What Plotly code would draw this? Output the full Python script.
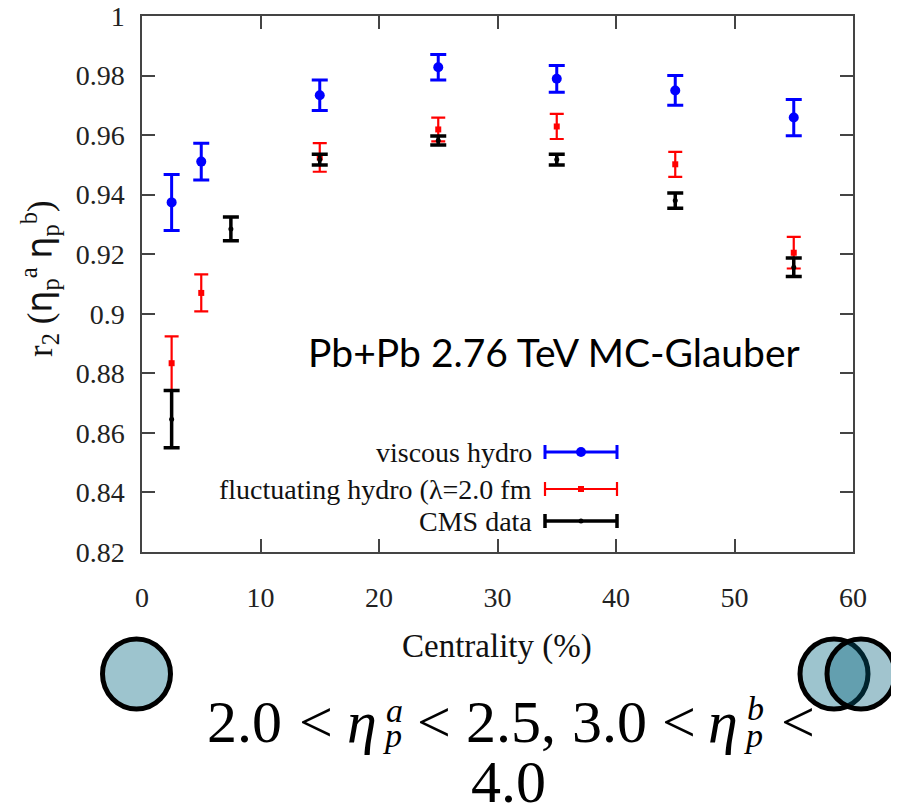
import plotly.graph_objects as go

# ---------------- data ----------------
x_hydro = [2.5, 5, 15, 25, 35, 45, 55]
visc = [0.9374, 0.9511, 0.9734, 0.9828, 0.9789, 0.9750, 0.9659]
visc_err = [0.0094, 0.0062, 0.0051, 0.0043, 0.0045, 0.0050, 0.0061]
fluct = [0.8834, 0.9070, 0.9525, 0.9619, 0.9629, 0.9502, 0.9205]
fluct_err = [0.0090, 0.0062, 0.0048, 0.0040, 0.0042, 0.0042, 0.0053]
x_cms = [2.5, 7.5, 15, 25, 35, 45, 55]
cms = [0.8646, 0.9285, 0.9518, 0.9582, 0.9518, 0.9380, 0.9156]
cms_err = [0.0096, 0.0040, 0.0018, 0.0015, 0.0018, 0.0026, 0.0031]

x_ticks = [0, 10, 20, 30, 40, 50, 60]
y_ticks = [0.82, 0.84, 0.86, 0.88, 0.9, 0.92, 0.94, 0.96, 0.98, 1]
y_ticklabels = ["0.82", "0.84", "0.86", "0.88", "0.9", "0.92", "0.94", "0.96", "0.98", "1"]

legend_names = ["viscous hydro", "fluctuating hydro (λ=2.0 fm", "CMS data"]
legend_colors = ["#0000FF", "#FF0000", "#000000"]

# page body has an 8px margin; the figure is sized so that it fills the window
OFF = 8
W, H = 899 - OFF, 805 - OFF
PL, PR, PT, PB = 142, 853, 16, 552  # plot area in window pixels
ML, MR, MT, MB = PL - OFF, 899 - PR, PT - OFF, 805 - PB
PW, PH = PR - PL, PB - PT


def px(x):
    return (x - PL) / PW


def py(y):
    return (PB - y) / PH


SERIF = "Liberation Serif, Times New Roman, serif"

fig = go.Figure()

fig.add_trace(go.Scatter(
    x=x_hydro, y=visc, mode="markers", name=legend_names[0],
    marker=dict(symbol="circle", size=10, color=legend_colors[0]),
    error_y=dict(type="data", array=visc_err, color=legend_colors[0], thickness=3, width=8),
    showlegend=False))
fig.add_trace(go.Scatter(
    x=x_hydro, y=fluct, mode="markers", name=legend_names[1],
    marker=dict(symbol="square", size=6, color=legend_colors[1]),
    error_y=dict(type="data", array=fluct_err, color=legend_colors[1], thickness=2.2, width=7),
    showlegend=False))
fig.add_trace(go.Scatter(
    x=x_cms, y=cms, mode="markers", name=legend_names[2],
    marker=dict(symbol="circle", size=5, color=legend_colors[2]),
    error_y=dict(type="data", array=cms_err, color=legend_colors[2], thickness=3.5, width=8),
    showlegend=False))

shapes = []
annotations = []

# custom legend (text on the left, sample on the right)
leg_y = [452, 489, 521]
leg_marker = [dict(kind="circle", r=5), dict(kind="rect", r=3), dict(kind="circle", r=2.5)]
leg_thick = [3, 2.2, 3.5]
for name, col, yy, mk, th in zip(legend_names, legend_colors, leg_y, leg_marker, leg_thick):
    annotations.append(dict(
        x=px(534), y=py(yy), xref="paper", yref="paper", xanchor="right", yanchor="middle",
        text=name, showarrow=False, font=dict(family=SERIF, size=28, color="#111")))
    shapes.append(dict(type="line", xref="paper", yref="paper", x0=px(545), x1=px(617),
                       y0=py(yy), y1=py(yy), line=dict(color=col, width=th)))
    for xe in (545, 617):
        shapes.append(dict(type="line", xref="paper", yref="paper", x0=px(xe), x1=px(xe),
                           y0=py(yy - 7), y1=py(yy + 7), line=dict(color=col, width=th)))
    r = mk["r"]
    shapes.append(dict(type=mk["kind"], xref="paper", yref="paper",
                       x0=px(581 - r), x1=px(581 + r), y0=py(yy - r), y1=py(yy + r),
                       fillcolor=col, line=dict(color=col, width=0)))

# text inside plot
annotations.append(dict(
    x=px(554), y=py(352), xref="paper", yref="paper", xanchor="center", yanchor="middle",
    text="Pb+Pb 2.76 TeV MC-Glauber", showarrow=False,
    font=dict(family="Lato, Noto Sans, sans-serif", size=39, color="#000")))

# axis titles
annotations.append(dict(
    x=px(497), y=py(646), xref="paper", yref="paper", xanchor="center", yanchor="middle",
    text="Centrality (%)", showarrow=False, font=dict(family=SERIF, size=33, color="#111")))
eta = '<span style="font-family:DejaVu Sans">η</span>'
annotations.append(dict(
    x=px(40), y=py(279), xref="paper", yref="paper", xanchor="center", yanchor="middle",
    textangle=-90,
    text="r<sub>2</sub> (" + eta + "<sub>p</sub><sup>a</sup> " + eta + "<sub>p</sub><sup>b</sup>)",
    showarrow=False, font=dict(family=SERIF, size=35, color="#111")))

# circles
circ_r = 34
for cx, fill in [(136.5, "#9DC4CE"), (834, "#9DC4CE"), (861, "rgba(0,94,121,0.37)")]:
    shapes.append(dict(type="circle", xref="paper", yref="paper",
                       x0=px(cx - circ_r), x1=px(cx + circ_r),
                       y0=py(674 + circ_r + 1), y1=py(674 - circ_r - 1),
                       fillcolor=fill, line=dict(color="#000", width=5)))

# bottom formula, placed piecewise
MATH = "Liberation Serif, DejaVu Serif, serif"
big = 60
small = 34
line1_y = 722
pieces = [
    ("2.0", 244, big, False, 0),
    ("<", 316, big, False, 0),
    ("η", 362, big, True, 0),
    ("p", 392, small, True, 13),
    ("a", 394, small, True, -12),
    ("<", 434, big, False, 0),
    ("2.5,", 511, big, False, 0),
    ("3.0", 609, big, False, 0),
    ("<", 679, big, False, 0),
    ("η", 723, big, True, 0),
    ("p", 753, small, True, 13),
    ("b", 755, small, True, -14),
    ("<", 798, big, False, 0),
]
for txt, cx, fs, it, dy in pieces:
    t = "<i>" + txt + "</i>" if it else txt
    annotations.append(dict(
        x=px(cx), y=py(line1_y + dy), xref="paper", yref="paper", xanchor="center",
        yanchor="middle", text=t, showarrow=False, font=dict(family=MATH, size=fs, color="#000")))
annotations.append(dict(
    x=px(508), y=py(782), xref="paper", yref="paper", xanchor="center", yanchor="middle",
    text="4.0", showarrow=False, font=dict(family=MATH, size=big, color="#000")))

axis_common = dict(showline=True, linecolor="#444", linewidth=1.5, mirror="ticks",
                   ticks="inside", ticklen=13, tickwidth=1.5, tickcolor="#444",
                   showgrid=False, zeroline=False, automargin=False,
                   ticklabeloverflow="allow",
                   tickfont=dict(family=SERIF, size=28, color="#222"))

fig.update_layout(
    width=W, height=H,
    margin=dict(l=ML, r=MR, t=MT, b=MB, pad=0, autoexpand=False),
    paper_bgcolor="white", plot_bgcolor="white",
    xaxis=dict(range=[0, 60], tickvals=x_ticks, ticktext=[str(v) for v in x_ticks],
               ticklabelstandoff=20, **axis_common),
    yaxis=dict(range=[0.82, 1.0], tickvals=y_ticks, ticktext=y_ticklabels,
               ticklabelstandoff=10, **axis_common),
    shapes=shapes, annotations=annotations, showlegend=False,
)

fig.write_html("out.html")
